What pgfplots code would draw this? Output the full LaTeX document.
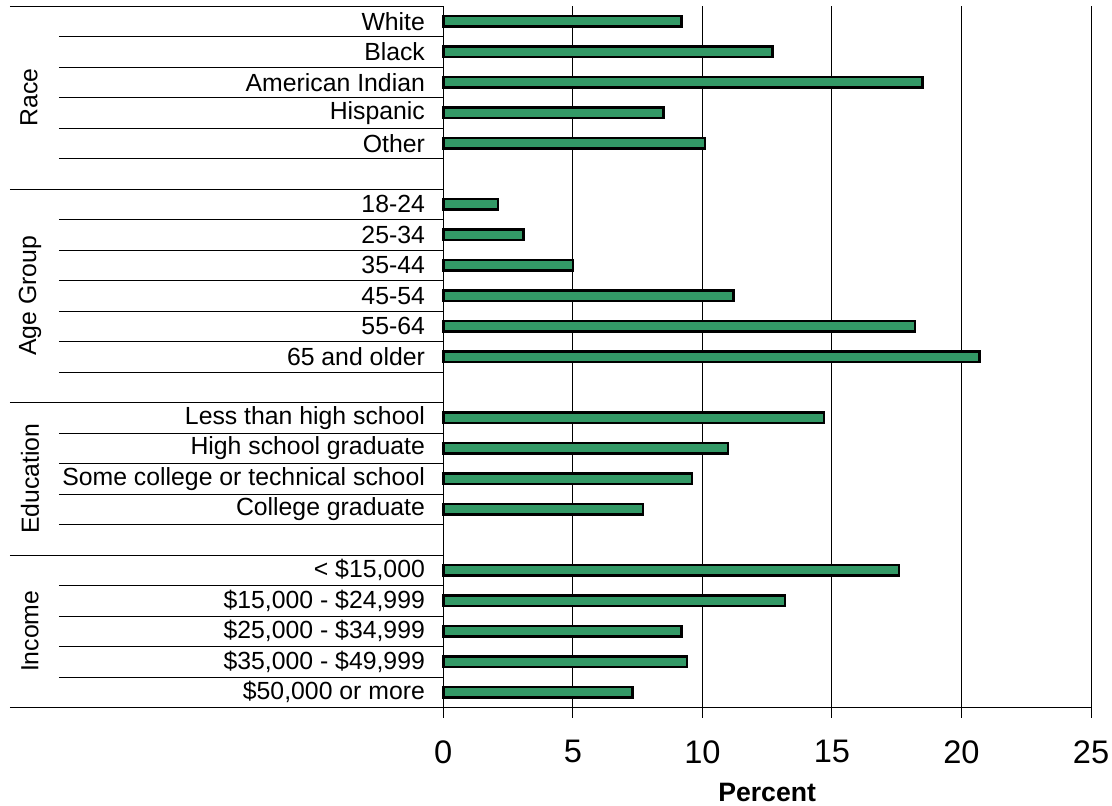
\documentclass[border=0pt]{standalone}
\usepackage{fontspec}
\setmainfont{Liberation Sans}
\usepackage{pgfplots}
\pgfplotsset{compat=1.18}
\definecolor{bargreen}{RGB}{51,153,102}

\begin{document}
\begin{tikzpicture}
% picture is 1112x805 px, 1px = 0.5pt, origin at top left
\useasboundingbox (0,0) rectangle (556pt,-402.5pt);
\begin{axis}[
  at={(221.65pt,-353.75pt)}, anchor=south west,
  scale only axis, width=323.85pt, height=350.75pt,
  clip=false,
  xbar, bar width=5.4pt,
  xmin=0, xmax=25,
  ymin=-0.5, ymax=22.5, y dir=reverse,
  axis x line*=bottom, axis y line*=left,
  axis line style={black, line width=0.5pt},
  xtick={0,5,...,25}, xtick pos=bottom,
  xtick align=outside, major tick length=5pt,
  xtick style={black, line width=0.5pt},
  xmajorgrids, grid style={black, line width=0.5pt},
  ytick={0,...,22},
  yticklabels={White,Black,American Indian,Hispanic,Other,,18-24,25-34,35-44,45-54,55-64,65 and older,,Less than high school,High school graduate,Some college or technical school,College graduate,,< \$15{,}000,\$15{,}000 - \$24{,}999,\$25{,}000 - \$34{,}999,\$35{,}000 - \$49{,}999,\$50{,}000 or more},
  ytick style={draw=none},
  yticklabel style={font=\fontsize{12.4}{14}\selectfont, anchor=east, inner sep=0pt, xshift=-4pt},
  xticklabel style={font=\fontsize{16.3}{18}\selectfont, anchor=north, inner sep=0pt, yshift=-11.2pt},
  /pgf/number format/assume math mode=true,
  xlabel={Percent},
  xlabel style={font=\fontsize{13.3}{15}\selectfont\bfseries, at={(rel axis cs:0.5,0)}, anchor=base, inner sep=0pt, yshift=-46.75pt},
]
\addplot[fill=bargreen, draw=black, line width=1.2pt] coordinates {
  (9.2,0) (12.7,1) (18.5,2) (8.5,3) (10.1,4)
  (2.1,6) (3.1,7) (5.0,8) (11.2,9) (18.2,10) (20.7,11)
  (14.7,13) (11.0,14) (9.6,15) (7.7,16)
  (17.6,18) (13.2,19) (9.2,20) (9.4,21) (7.3,22)
};
% group separators
\pgfplotsinvokeforeach{-0.5,5.5,12.5,17.5,22.5}{
  \draw[black, line width=0.5pt] ([xshift=-216.65pt]axis cs:0,#1) -- (axis cs:0,#1);
}
% row separators
\pgfplotsinvokeforeach{0.5,1.5,2.5,3.5,4.5,6.5,7.5,8.5,9.5,10.5,11.5,13.5,14.5,15.5,16.5,18.5,19.5,20.5,21.5}{
  \draw[black, line width=0.5pt] ([xshift=-192.15pt]axis cs:0,#1) -- (axis cs:0,#1);
}
% group names
\node[rotate=90, font=\fontsize{12.4}{14}\selectfont, inner sep=0pt] at ([xshift=-207.15pt]axis cs:0,2.5) {Race};
\node[rotate=90, font=\fontsize{12.4}{14}\selectfont, inner sep=0pt] at ([xshift=-206.65pt]axis cs:0,9) {Age Group};
\node[rotate=90, font=\fontsize{12.4}{14}\selectfont, inner sep=0pt] at ([xshift=-206.65pt]axis cs:0,15) {Education};
\node[rotate=90, font=\fontsize{12.4}{14}\selectfont, inner sep=0pt] at ([xshift=-206.65pt]axis cs:0,20) {Income};
\end{axis}
\end{tikzpicture}
\end{document}
